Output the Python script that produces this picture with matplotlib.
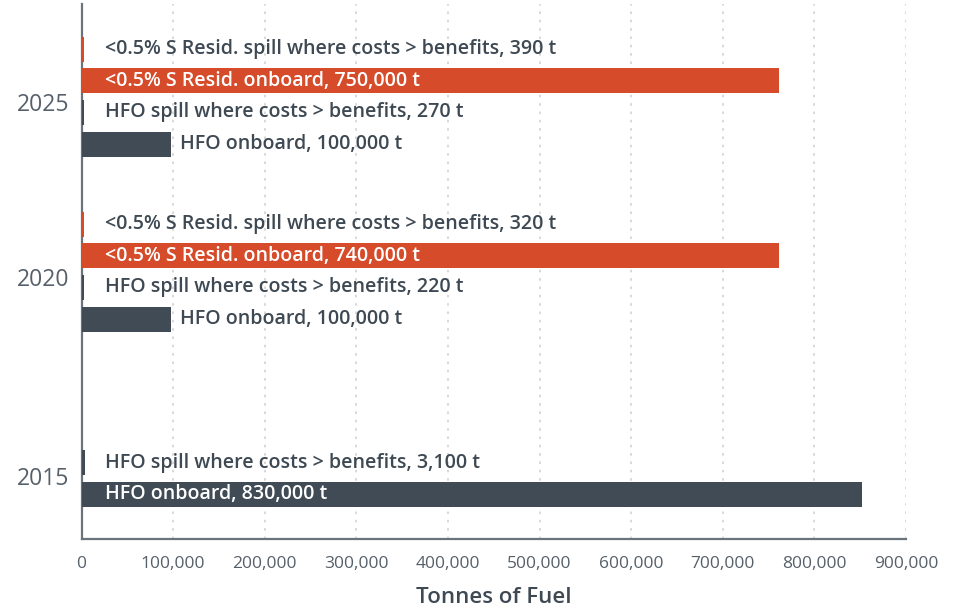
import numpy as np
import matplotlib
matplotlib.use('Agg')
from matplotlib import pyplot as plt
from matplotlib.ticker import FuncFormatter

# Data
years = ['2015', '2020', '2025']
hfo_onboard = [852000, 97500, 97500]
hfo_spill = [3300, 3000, 3000]
resid_onboard = [0, 761000, 761000]
resid_spill = [0, 3000, 3000]

hfo_onboard_lbl = ['HFO onboard, 830,000 t', 'HFO onboard, 100,000 t', 'HFO onboard, 100,000 t']
hfo_spill_lbl = ['HFO spill where costs > benefits, 3,100 t',
                 'HFO spill where costs > benefits, 220 t',
                 'HFO spill where costs > benefits, 270 t']
resid_onboard_lbl = ['', '<0.5% S Resid. onboard, 740,000 t', '<0.5% S Resid. onboard, 750,000 t']
resid_spill_lbl = ['', '<0.5% S Resid. spill where costs > benefits, 320 t',
                   '<0.5% S Resid. spill where costs > benefits, 390 t']

dark = '#404b55'
red = '#d64b29'
textc = '#3e4953'
greyc = '#56606a'
font = 'Open Sans'
lblsize = 14.1

series = [
    (hfo_onboard, hfo_onboard_lbl, dark),
    (hfo_spill, hfo_spill_lbl, dark),
    (resid_onboard, resid_onboard_lbl, red),
    (resid_spill, resid_spill_lbl, red),
]

step = 0.181     # spacing of bars within a year group
height = 0.143

fig = plt.figure(figsize=(9.56, 6.08), dpi=100)
ax = fig.add_axes([0.0853, 0.1135, 0.8624, 0.8795])

g = np.arange(len(years))
tick_y = []
for gi in g:
    present = [gi + k * step for k, (vals, _, _) in enumerate(series) if vals[gi] > 0]
    shift = -0.032 if len(present) > 2 else 0.012
    tick_y.append(np.mean(present) + shift)

for k, (vals, lbls, col) in enumerate(series):
    y = g + k * step
    vals = np.array(vals)
    ax.barh(y[vals > 0], vals[vals > 0], height=height, color=col, zorder=3)
    for yi, v, t in zip(y, vals, lbls):
        if v <= 0:
            continue
        if v > 300000:
            ax.annotate(t, (0, yi), xytext=(17, 0), textcoords='offset points',
                        ha='left', va='center', color='white', fontsize=lblsize,
                        fontweight='semibold', family=font, zorder=4)
        elif v < 10000:
            ax.annotate(t, (0, yi), xytext=(17, 0), textcoords='offset points',
                        ha='left', va='center', color=textc, fontsize=lblsize,
                        fontweight='semibold', family=font, zorder=4)
        else:
            ax.annotate(t, (v, yi), xytext=(6.5, 0), textcoords='offset points',
                        ha='left', va='center', color=textc, fontsize=lblsize,
                        fontweight='semibold', family=font, zorder=4)

ax.set_xlim(0, 900000)
ax.set_ylim(-0.256, 2.799)
ax.set_xticks(np.arange(0, 900001, 100000))
ax.xaxis.set_major_formatter(FuncFormatter(lambda v, p: '{:,.0f}'.format(v)))
ax.set_yticks(tick_y)
ax.set_yticklabels(years)
ax.tick_params(axis='both', length=0)
ax.tick_params(axis='x', pad=12, labelsize=12.5, labelcolor=greyc)
ax.tick_params(axis='y', pad=9, labelsize=16.5, labelcolor=greyc)
for lab in ax.get_xticklabels() + ax.get_yticklabels():
    lab.set_family(font)

ax.grid(axis='x', color='#d2d2d2', linestyle=(0, (1.5, 3.5)), linewidth=1.2, zorder=0)
ax.set_axisbelow(True)
for s in ['top', 'right']:
    ax.spines[s].set_visible(False)
for s in ['left', 'bottom']:
    ax.spines[s].set_color('#6b737a')
    ax.spines[s].set_linewidth(1.6)

ax.set_xlabel('Tonnes of Fuel', fontsize=16, fontweight='semibold', color=textc,
              family=font, labelpad=11)

fig.savefig('out.png', dpi=100)
